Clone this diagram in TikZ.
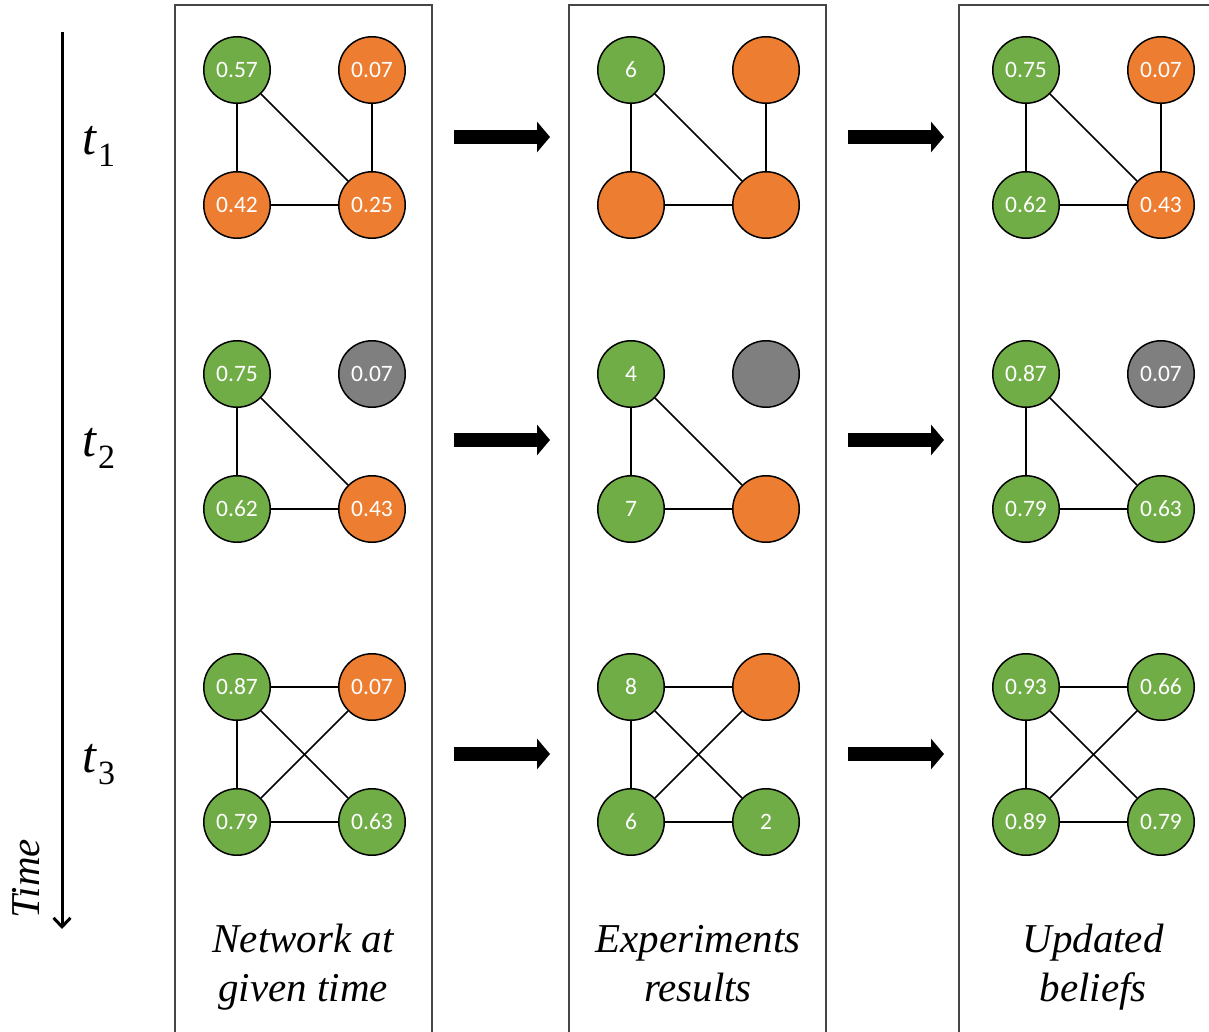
\documentclass[tikz,border=0pt]{standalone}
\usepackage{fontspec}
\setmainfont{Liberation Serif}
\newfontfamily\numfont{Carlito}
\newfontfamily\labfont{Liberation Serif Italic}
\usetikzlibrary{arrows.meta}
\definecolor{grn}{RGB}{112,173,71}
\definecolor{org}{RGB}{237,125,49}
\definecolor{gry}{RGB}{127,127,127}
\definecolor{boxc}{RGB}{70,70,70}
\newcommand{\tsub}[1]{{\labfont\fontsize{50}{50}\selectfont t}\kern2pt\raisebox{-12pt}{\fontsize{34}{34}\selectfont #1}}
\begin{document}
\begin{tikzpicture}[x=1pt,y=-1pt,
  circ/.style={circle, draw=black, line width=1.5pt, minimum size=66.5pt, inner sep=0pt,
     text=white, font=\numfont\fontsize{23.5}{23.5}\selectfont},
  G/.style={circ, fill=grn},
  O/.style={circ, fill=org},
  Y/.style={circ, fill=gry},
  edge/.style={line width=1.5pt, draw=black},
  panel/.style={draw=boxc, line width=1.3pt},
  bigarrow/.style={line width=14pt, -{Triangle[length=13pt,width=30pt]}},
  timearrow/.style={line width=3pt, -{Straight Barb[length=9pt,width=17pt]}},
  lab/.style={font=\labfont\fontsize{41}{41}\selectfont, anchor=base, inner sep=0pt},
  tlab/.style={anchor=base west, inner sep=0pt}
]
\useasboundingbox (0,0) rectangle (1209,1032);
\clip (0,0) rectangle (1209,1032);

% panels
\draw[panel] (175,5) rectangle (432,1045);
\draw[panel] (569,5) rectangle (826,1045);
\draw[panel] (959,5) rectangle (1220,1045);

% networks
\foreach \n/\x/\y/\s/\t in {
  a1tl/237/70/G/0.57, a1tr/372/70/O/0.07, a1bl/237/205/O/0.42, a1br/372/205/O/0.25,
  a2tl/237/374/G/0.75, a2tr/372/374/Y/0.07, a2bl/237/509/G/0.62, a2br/372/509/O/0.43,
  a3tl/237/687/G/0.87, a3tr/372/687/O/0.07, a3bl/237/822/G/0.79, a3br/372/822/G/0.63,
  b1tl/631/70/G/6, b1tr/766/70/O/, b1bl/631/205/O/, b1br/766/205/O/,
  b2tl/631/374/G/4, b2tr/766/374/Y/, b2bl/631/509/G/7, b2br/766/509/O/,
  b3tl/631/687/G/8, b3tr/766/687/O/, b3bl/631/822/G/6, b3br/766/822/G/2,
  c1tl/1026/70/G/0.75, c1tr/1161/70/O/0.07, c1bl/1026/205/G/0.62, c1br/1161/205/O/0.43,
  c2tl/1026/374/G/0.87, c2tr/1161/374/Y/0.07, c2bl/1026/509/G/0.79, c2br/1161/509/G/0.63,
  c3tl/1026/687/G/0.93, c3tr/1161/687/G/0.66, c3bl/1026/822/G/0.89, c3br/1161/822/G/0.79}
  \node[\s] (\n) at (\x,\y) {\t};

\foreach \p in {a,b,c} {
  \draw[edge] (\p1tl) -- (\p1bl);
  \draw[edge] (\p1tl) -- (\p1br);
  \draw[edge] (\p1tr) -- (\p1br);
  \draw[edge] (\p1bl) -- (\p1br);
  \draw[edge] (\p2tl) -- (\p2bl);
  \draw[edge] (\p2tl) -- (\p2br);
  \draw[edge] (\p2bl) -- (\p2br);
  \draw[edge] (\p3tl) -- (\p3tr);
  \draw[edge] (\p3tl) -- (\p3bl);
  \draw[edge] (\p3tl) -- (\p3br);
  \draw[edge] (\p3tr) -- (\p3bl);
  \draw[edge] (\p3bl) -- (\p3br);
}

% big arrows
\foreach \r/\y in {1/137, 2/440, 3/754} {
  \coordinate (ab\r s) at (454,\y);
  \coordinate (ab\r e) at (550,\y);
  \coordinate (bc\r s) at (848,\y);
  \coordinate (bc\r e) at (944,\y);
  \draw[bigarrow] (ab\r s) -- (ab\r e);
  \draw[bigarrow] (bc\r s) -- (bc\r e);
}

% time axis
\coordinate (tstart) at (62,32);
\coordinate (tend) at (62,929);
\draw[timearrow] (tstart) -- (tend);
\node[font=\labfont\fontsize{41}{41}\selectfont, rotate=90, inner sep=0pt] (timelab) at (26,879) {Time};

\node[tlab] (t1) at (82,155) {\tsub{1}};
\node[tlab] (t2) at (82,456) {\tsub{2}};
\node[tlab] (t3) at (82,772) {\tsub{3}};

% bottom labels
\node[lab] (l1a) at (303,952) {Network at};
\node[lab] (l1b) at (303,1001) {given time};
\node[lab] (l2a) at (698,952) {Experiments};
\node[lab] (l2b) at (698,1001) {results};
\node[lab] (l3a) at (1093,952) {Updated};
\node[lab] (l3b) at (1093,1001) {beliefs};
\end{tikzpicture}
\end{document}
